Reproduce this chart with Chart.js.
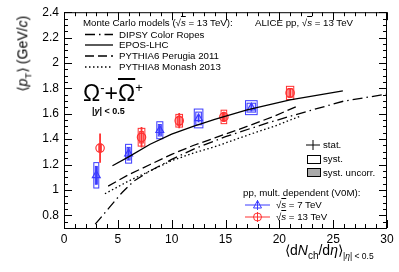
<!DOCTYPE html>
<html>
<head>
<meta charset="utf-8">
<script src="https://cdn.jsdelivr.net/npm/chart.js@4.4.1/dist/chart.umd.min.js"></script>
<style>
  body { margin: 0; background: #fff; }
  #wrap { position: relative; width: 399px; height: 272px; font-family: "Liberation Sans", Arial, sans-serif; }
  canvas { position: absolute; left: 0; top: 0; }
  .t { position: absolute; white-space: nowrap; color: #000; line-height: 1; }
  .ov { text-decoration: overline; }
  .leg { font-size: 9.7px; }
</style>
</head>
<body>
<div id="wrap">
  <canvas id="chart" width="399" height="272"></canvas>

  <div class="t" id="ytitle" style="font-size:14px; left:-23px; top:45px; width:94px; text-align:center; transform:rotate(-90deg);">&#10216;<i>p</i><sub style="font-size:9.5px">T</sub>&#10217; (GeV/<i>c</i>)</div>
  <div class="t" style="font-size:14px; left:285px; top:243px;">&#10216;d<i>N</i><sub style="font-size:10px">ch</sub>/d<i>&#951;</i>&#10217;<sub style="font-size:8.5px">|<i>&#951;</i>| &lt; 0.5</sub></div>

  <div class="t leg" style="left:83px; top:18px;">Monte Carlo models (&#8730;<span class="ov"><i>s</i></span> = 13 TeV):</div>
  <div class="t leg" style="left:119px; top:30px;">DIPSY Color Ropes</div>
  <div class="t leg" style="left:119px; top:40px;">EPOS-LHC</div>
  <div class="t leg" style="left:119px; top:51px;">PYTHIA6 Perugia 2011</div>
  <div class="t leg" style="left:119px; top:62px;">PYTHIA8 Monash 2013</div>
  <div class="t leg" style="left:255px; top:18px;">ALICE pp, &#8730;<span class="ov"><i>s</i></span> = 13 TeV</div>

  <div class="t" style="font-size:23px; left:83px; top:81px;">&#937;<sup style="font-size:13px">-</sup>+<span class="ov">&#937;</span><sup style="font-size:13px">+</sup></div>
  <div class="t" style="font-size:9px; font-weight:bold; left:92px; top:107px;">|<i>y</i>| &lt; 0.5</div>

  <div class="t leg" style="left:323px; top:140px;">stat.</div>
  <div class="t leg" style="left:323px; top:154px;">syst.</div>
  <div class="t leg" style="left:323px; top:168px;">syst. uncorr.</div>
  <div class="t leg" style="left:243px; top:188px;">pp, mult. dependent (V0M):</div>
  <div class="t leg" style="left:276px; top:200px;">&#8730;<span class="ov"><i>s</i></span> = 7 TeV</div>
  <div class="t leg" style="left:276px; top:212px;">&#8730;<span class="ov"><i>s</i></span> = 13 TeV</div>
</div>

<script>
// pp 7 TeV, Omega <pT> vs multiplicity
const x7 = [3.0, 6.0, 8.9, 12.5, 17.4];
const pt7 = [1.115, 1.285, 1.47, 1.563, 1.648];
const stat7 = [0.07, 0.05, 0.04, 0.03, 0.03];
const syst7 = [0.1, 0.074, 0.067, 0.074, 0.055];
const uncorr7 = [0.07, 0.05, 0.045, 0.05, 0.035];
const xw7 = [0.23, 0.28, 0.28, 0.4, 0.54];

// pp 13 TeV
const x13 = [3.35, 7.2, 10.7, 14.85, 21.0];
const pt13 = [1.33, 1.415, 1.545, 1.575, 1.764];
const stat13 = [0.115, 0.08, 0.06, 0.04, 0.035];
const syst13 = [0.03, 0.07, 0.05, 0.053, 0.052];
const uncorr13 = [0.02, 0.045, 0.035, 0.035, 0.035];
const xw13 = [0.12, 0.31, 0.31, 0.26, 0.34];

// models
const eposX = [4.5, 6, 8, 10, 12, 14, 17, 21, 25.9];
const eposY = [1.19, 1.26, 1.36, 1.44, 1.50, 1.555, 1.63, 1.71, 1.78];
const peruX = [4.1, 6, 8, 10, 12, 14, 17, 19.5, 21.8];
const peruY = [1.03, 1.12, 1.20, 1.28, 1.35, 1.41, 1.50, 1.58, 1.665];
const dipsyX = [2.9, 4.2, 5.4, 6.5, 8, 10, 12, 15, 19, 21.8, 26, 30];
const dipsyY = [0.73, 0.86, 0.98, 1.07, 1.15, 1.24, 1.32, 1.42, 1.53, 1.60, 1.70, 1.755];
const monX = [3.8, 6, 8, 10, 12, 14, 17, 19.5, 21.9];
const monY = [0.97, 1.07, 1.15, 1.23, 1.29, 1.34, 1.43, 1.50, 1.58];

// axis ticks
const xTicks = [0, 5, 10, 15, 20, 25, 30];
const yTicks = [0.8, 1.0, 1.2, 1.4, 1.6, 1.8, 2.0, 2.2, 2.4];

const BLUE = '#3a3aff';
const RED = '#ff3030';
const FONT = '"Liberation Sans", Arial, sans-serif';

const pts = (xs, ys) => xs.map((v, i) => ({ x: v, y: ys[i] }));

function model(xs, ys, dash) {
    return {
        data: pts(xs, ys),
        showLine: true,
        pointRadius: 0,
        borderColor: '#000',
        borderWidth: 1.3,
        borderDash: dash,
        fill: false
    };
}

function drawBoxes(chart, xs, ys, xw, sy, un, color, fillColor) {
    const { ctx, scales: { x, y } } = chart;
    xs.forEach((v, i) => {
        const l = x.getPixelForValue(v - xw[i]);
        const r = x.getPixelForValue(v + xw[i]);
        const ti = y.getPixelForValue(ys[i] + un[i]);
        const bi = y.getPixelForValue(ys[i] - un[i]);
        ctx.fillStyle = fillColor;
        ctx.fillRect(l + 1.5, ti, r - l - 3, bi - ti);
        ctx.strokeStyle = color;
        ctx.lineWidth = 1;
        ctx.strokeRect(l + 1.5, ti, r - l - 3, bi - ti);
        const t = y.getPixelForValue(ys[i] + sy[i]);
        const b = y.getPixelForValue(ys[i] - sy[i]);
        ctx.strokeRect(l, t, r - l, b - t);
    });
}

function drawBars(chart, xs, ys, st, color) {
    const { ctx, scales: { x, y } } = chart;
    ctx.strokeStyle = color;
    ctx.lineWidth = 1.8;
    xs.forEach((v, i) => {
        const px = x.getPixelForValue(v);
        ctx.beginPath();
        ctx.moveTo(px, y.getPixelForValue(ys[i] + st[i]));
        ctx.lineTo(px, y.getPixelForValue(ys[i] - st[i]));
        ctx.stroke();
    });
}

const errPlugin = {
    id: 'errs',
    beforeDatasetsDraw(chart) {
        const { ctx, chartArea: a } = chart;
        ctx.save();
        ctx.beginPath();
        ctx.rect(a.left, a.top, a.right - a.left, a.bottom - a.top);
        ctx.clip();
        drawBoxes(chart, x7, pt7, xw7, syst7, uncorr7, BLUE, 'rgba(58,58,255,0.12)');
        drawBoxes(chart, x13, pt13, xw13, syst13, uncorr13, RED, 'rgba(255,48,48,0.25)');
        drawBars(chart, x7, pt7, stat7, BLUE);
        drawBars(chart, x13, pt13, stat13, RED);
        ctx.restore();
    }
};

const frameTicks = {
    id: 'frame',
    afterDraw(chart) {
        const { ctx, chartArea: a, scales: { x, y } } = chart;
        ctx.save();
        ctx.strokeStyle = '#000';
        ctx.lineWidth = 1;
        ctx.strokeRect(a.left + 0.5, a.top + 0.5, a.right - a.left - 1, a.bottom - a.top);
        ctx.beginPath();
        for (let v = 0; v <= 30; v += 1) {
            const px = Math.round(x.getPixelForValue(v)) + 0.5;
            const len = v % 5 === 0 ? 8 : 4;
            ctx.moveTo(px, a.bottom); ctx.lineTo(px, a.bottom - len);
            ctx.moveTo(px, a.top); ctx.lineTo(px, a.top + len);
        }
        for (let k = 14; k <= 48; k++) {
            const v = k * 0.05;
            const py = Math.round(y.getPixelForValue(v)) + 0.5;
            const len = k % 4 === 0 ? 8 : 4;
            ctx.moveTo(a.left, py); ctx.lineTo(a.left + len, py);
            ctx.moveTo(a.right, py); ctx.lineTo(a.right - len, py);
        }
        ctx.stroke();

        // legend samples
        const sample = (y0, dash) => {
            ctx.setLineDash(dash);
            ctx.lineWidth = 1.3;
            ctx.beginPath(); ctx.moveTo(85, y0); ctx.lineTo(113, y0); ctx.stroke();
        };
        sample(34.5, [10, 4, 1.5, 4]);
        sample(45, []);
        sample(56, [9, 4]);
        sample(67, [1.5, 2.5]);
        ctx.setLineDash([]);

        ctx.lineWidth = 1;
        ctx.beginPath();
        ctx.moveTo(306, 145); ctx.lineTo(320, 145);
        ctx.moveTo(313, 140); ctx.lineTo(313, 150);
        ctx.stroke();
        ctx.strokeRect(307.5, 155.5, 13, 8);
        ctx.fillStyle = '#aaa';
        ctx.fillRect(307.5, 168.5, 13, 8);
        ctx.strokeRect(307.5, 168.5, 13, 8);

        // 7 TeV sample
        ctx.strokeStyle = BLUE;
        ctx.beginPath();
        ctx.moveTo(245, 205); ctx.lineTo(270, 205);
        ctx.moveTo(257.5, 200); ctx.lineTo(257.5, 210);
        ctx.stroke();
        ctx.beginPath();
        ctx.moveTo(257.5, 200.5); ctx.lineTo(261.5, 208); ctx.lineTo(253.5, 208); ctx.closePath();
        ctx.stroke();
        // 13 TeV sample
        ctx.strokeStyle = RED;
        ctx.beginPath();
        ctx.moveTo(245, 217); ctx.lineTo(270, 217);
        ctx.moveTo(257.5, 212); ctx.lineTo(257.5, 222);
        ctx.stroke();
        ctx.beginPath(); ctx.arc(257.5, 217, 4, 0, Math.PI * 2); ctx.stroke();
        ctx.restore();
    }
};

new Chart(document.getElementById('chart'), {
    type: 'scatter',
    data: {
        datasets: [
            model(dipsyX, dipsyY, [10, 4, 1.5, 4]),
            model(eposX, eposY, []),
            model(peruX, peruY, [9, 4]),
            model(monX, monY, [1.5, 2.5]),
            {
                data: pts(x7, pt7),
                pointStyle: 'triangle',
                pointRadius: 4.5,
                borderColor: BLUE,
                backgroundColor: 'rgba(0,0,0,0)',
                borderWidth: 1.2
            },
            {
                data: pts(x13, pt13),
                pointStyle: 'circle',
                pointRadius: 4.2,
                borderColor: RED,
                backgroundColor: 'rgba(0,0,0,0)',
                borderWidth: 1.2
            }
        ]
    },
    options: {
        responsive: false,
        animation: false,
        devicePixelRatio: 1,
        layout: { padding: { top: 9, right: 12, left: 0, bottom: 0 } },
        plugins: { legend: { display: false }, tooltip: { enabled: false } },
        scales: {
            x: {
                type: 'linear', min: 0, max: 30,
                grid: { display: false, drawTicks: false },
                border: { display: false },
                afterBuildTicks: s => { s.ticks = xTicks.map(v => ({ value: v })); },
                afterFit: s => { s.height = 44; },
                ticks: { color: '#000', font: { family: FONT, size: 12 }, padding: 4, maxRotation: 0 }
            },
            y: {
                type: 'linear', min: 0.7, max: 2.4,
                grid: { display: false, drawTicks: false },
                border: { display: false },
                afterBuildTicks: s => { s.ticks = yTicks.map(v => ({ value: v })); },
                afterFit: s => { s.width = 64; },
                ticks: {
                    color: '#000', font: { family: FONT, size: 12 }, padding: 5,
                    callback: v => String(+v.toFixed(1))
                }
            }
        }
    },
    plugins: [errPlugin, frameTicks]
});
</script>
</body>
</html>
